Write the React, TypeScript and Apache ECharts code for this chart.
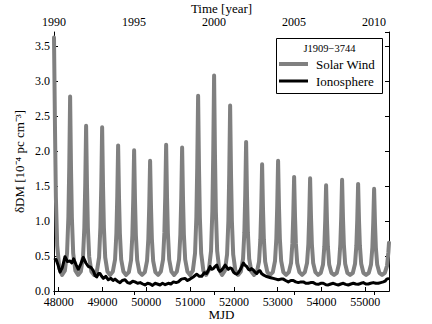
import React, { useEffect, useRef } from "react";
import * as echarts from "echarts";

// MJD range of the plot (1990.0 .. ~2010.94)
const mjdMin = 47892;
const mjdMax = 55540;
const yearMin = 1990;
const yearMax = 1990 + (55540 - 47892) / 365.25;

const legendTitle = "J1909\u22123744";
const seriesNames = ["Solar Wind", "Ionosphere"];

const solarWind: [number, number][] = [
  [47892, 3.62], [47915, 2.31], [47935, 1.34], [47965, 0.65], [48015, 0.32], [48077, 0.23],
  [48140, 0.29], [48190, 0.54], [48220, 1.05], [48240, 1.76], [48260, 2.78], [48280, 1.76], [48300, 1.05], [48330, 0.54], [48380, 0.29], [48442, 0.23],
  [48505, 0.28], [48555, 0.49], [48585, 0.91], [48605, 1.51], [48625, 2.36], [48645, 1.51], [48665, 0.91], [48695, 0.49], [48745, 0.28], [48808, 0.23],
  [48871, 0.28], [48921, 0.48], [48951, 0.91], [48971, 1.5], [48991, 2.34], [49011, 1.5], [49031, 0.91], [49061, 0.48], [49111, 0.28], [49173, 0.23],
  [49236, 0.28], [49286, 0.45], [49316, 0.82], [49336, 1.34], [49356, 2.08], [49376, 1.34], [49396, 0.82], [49426, 0.45], [49476, 0.28], [49538, 0.23],
  [49601, 0.27], [49651, 0.44], [49681, 0.8], [49701, 1.3], [49721, 2.01], [49741, 1.3], [49761, 0.8], [49791, 0.44], [49841, 0.27], [49903, 0.23],
  [49966, 0.27], [50016, 0.43], [50046, 0.75], [50066, 1.21], [50086, 1.86], [50106, 1.21], [50126, 0.75], [50156, 0.43], [50206, 0.27], [50269, 0.23],
  [50332, 0.28], [50382, 0.45], [50412, 0.83], [50432, 1.35], [50452, 2.09], [50472, 1.35], [50492, 0.83], [50522, 0.45], [50572, 0.28], [50634, 0.23],
  [50697, 0.28], [50747, 0.45], [50777, 0.81], [50797, 1.32], [50817, 2.05], [50837, 1.32], [50857, 0.81], [50887, 0.45], [50937, 0.28], [50999, 0.23],
  [51062, 0.29], [51112, 0.54], [51142, 1.05], [51162, 1.77], [51182, 2.79], [51202, 1.77], [51222, 1.05], [51252, 0.54], [51302, 0.29], [51364, 0.23],
  [51427, 0.3], [51477, 0.57], [51507, 1.14], [51527, 1.94], [51547, 3.08], [51567, 1.94], [51587, 1.14], [51617, 0.57], [51667, 0.3], [51730, 0.23],
  [51793, 0.29], [51843, 0.52], [51873, 1.0], [51893, 1.68], [51913, 2.65], [51933, 1.68], [51953, 1.0], [51983, 0.52], [52033, 0.29], [52095, 0.23],
  [52158, 0.28], [52208, 0.46], [52238, 0.84], [52258, 1.37], [52278, 2.13], [52298, 1.37], [52318, 0.84], [52348, 0.46], [52398, 0.28], [52460, 0.23],
  [52523, 0.27], [52573, 0.42], [52603, 0.74], [52623, 1.18], [52643, 1.81], [52663, 1.18], [52683, 0.74], [52713, 0.42], [52763, 0.27], [52825, 0.23],
  [52888, 0.27], [52938, 0.43], [52968, 0.75], [52988, 1.21], [53008, 1.86], [53028, 1.21], [53048, 0.75], [53078, 0.43], [53128, 0.27], [53191, 0.23],
  [53254, 0.27], [53304, 0.4], [53334, 0.68], [53354, 1.07], [53374, 1.63], [53394, 1.07], [53414, 0.68], [53444, 0.4], [53494, 0.27], [53556, 0.23],
  [53619, 0.27], [53669, 0.4], [53699, 0.67], [53719, 1.06], [53739, 1.61], [53759, 1.06], [53779, 0.67], [53809, 0.4], [53859, 0.27], [53921, 0.23],
  [53984, 0.26], [54034, 0.38], [54064, 0.64], [54084, 1.0], [54104, 1.51], [54124, 1.0], [54144, 0.64], [54174, 0.38], [54224, 0.26], [54286, 0.23],
  [54349, 0.26], [54399, 0.39], [54429, 0.67], [54449, 1.05], [54469, 1.59], [54489, 1.05], [54509, 0.67], [54539, 0.39], [54589, 0.26], [54652, 0.23],
  [54715, 0.26], [54765, 0.39], [54795, 0.65], [54815, 1.01], [54835, 1.53], [54855, 1.01], [54875, 0.65], [54905, 0.39], [54955, 0.26], [55017, 0.23],
  [55080, 0.26], [55130, 0.38], [55160, 0.62], [55180, 0.97], [55200, 1.46], [55220, 0.97], [55240, 0.62], [55270, 0.38], [55320, 0.26], [55382, 0.23],
  [55445, 0.26], [55495, 0.36], [55525, 0.55], [55540, 0.69],
];

const ionosphere: [number, number][] = [
  [47892, 0.44], [47940, 0.45], [47990, 0.36], [48030, 0.27], [48080, 0.33], [48143, 0.49], [48200, 0.42],
  [48257, 0.43], [48300, 0.4], [48340, 0.46], [48400, 0.37], [48447, 0.31], [48500, 0.38], [48561, 0.48],
  [48620, 0.4], [48675, 0.35], [48730, 0.34], [48789, 0.29], [48830, 0.22], [48866, 0.2], [48910, 0.25],
  [48942, 0.25], [48980, 0.21], [49018, 0.18], [49075, 0.21], [49132, 0.16], [49190, 0.18], [49240, 0.15],
  [49285, 0.17], [49340, 0.14], [49399, 0.12], [49450, 0.15], [49513, 0.16], [49570, 0.12], [49627, 0.11],
  [49690, 0.14], [49741, 0.13], [49800, 0.11], [49860, 0.12], [49920, 0.1], [49969, 0.086], [50030, 0.11],
  [50090, 0.1], [50140, 0.08], [50198, 0.11], [50250, 0.1], [50312, 0.086], [50370, 0.11], [50430, 0.09],
  [50501, 0.11], [50560, 0.1], [50620, 0.13], [50680, 0.12], [50730, 0.13], [50800, 0.17], [50883, 0.18],
  [50940, 0.15], [50997, 0.17], [51070, 0.2], [51150, 0.24], [51210, 0.21], [51264, 0.21], [51320, 0.26],
  [51378, 0.25], [51420, 0.3], [51453, 0.35], [51490, 0.31], [51529, 0.32], [51570, 0.35], [51606, 0.37],
  [51645, 0.31], [51682, 0.28], [51720, 0.3], [51757, 0.33], [51800, 0.37], [51871, 0.31], [51910, 0.33],
  [51949, 0.32], [51990, 0.27], [52024, 0.25], [52060, 0.24], [52100, 0.26], [52150, 0.31], [52214, 0.4],
  [52250, 0.37], [52291, 0.35], [52330, 0.31], [52367, 0.3], [52400, 0.32], [52442, 0.3], [52480, 0.27],
  [52520, 0.25], [52560, 0.28], [52595, 0.29], [52630, 0.25], [52670, 0.23], [52730, 0.21], [52784, 0.2],
  [52840, 0.19], [52899, 0.18], [52960, 0.17], [53013, 0.16], [53070, 0.17], [53127, 0.17], [53180, 0.15],
  [53241, 0.13], [53300, 0.15], [53355, 0.15], [53410, 0.13], [53470, 0.12], [53530, 0.13], [53584, 0.13],
  [53640, 0.11], [53698, 0.11], [53750, 0.12], [53812, 0.12], [53870, 0.1], [53926, 0.096], [53980, 0.11],
  [54040, 0.11], [54100, 0.09], [54154, 0.086], [54210, 0.1], [54268, 0.11], [54330, 0.095], [54383, 0.086],
  [54440, 0.1], [54497, 0.11], [54550, 0.095], [54611, 0.086], [54670, 0.1], [54725, 0.11], [54780, 0.1],
  [54839, 0.096], [54900, 0.11], [54953, 0.12], [55010, 0.1], [55067, 0.1], [55120, 0.11], [55182, 0.12],
  [55240, 0.11], [55296, 0.11], [55350, 0.12], [55410, 0.13], [55450, 0.14], [55488, 0.17], [55540, 0.18],
];

const FONT = "Liberation Serif";
const GREY = "#808080";

export default function App() {
  const ref = useRef<HTMLDivElement>(null);
  useEffect(() => {
    if (!ref.current) return;
    const chart = echarts.init(ref.current, undefined, { renderer: "svg" });
    const tickStyle = { inside: true, length: 4, lineStyle: { color: "#000", width: 1 } };
    const lineStyle = { lineStyle: { color: "#000", width: 1 } };
    const nameStyle = { fontFamily: FONT, fontSize: 13, color: "#000" };
    const labelBase = { fontFamily: FONT, fontSize: 12, color: "#000", margin: 4 };
    chart.setOption({
      animation: false,
      backgroundColor: "#fff",
      textStyle: { fontFamily: FONT },
      grid: { left: 54, right: 43, top: 32, bottom: 33, containLabel: false, outerBoundsMode: "none" },
      xAxis: [
        {
          type: "value",
          position: "bottom",
          min: mjdMin,
          max: mjdMax,
          minInterval: 1000,
          maxInterval: 1000,
          name: "MJD",
          nameLocation: "middle",
          nameGap: 17,
          nameMoveOverlap: false,
          nameTextStyle: nameStyle,
          axisLine: lineStyle,
          axisTick: tickStyle,
          splitLine: { show: false },
          axisLabel: { ...labelBase, margin: 5, showMinLabel: false, showMaxLabel: false, hideOverlap: false, formatter: (v: number) => String(Math.round(v)) },
        },
        {
          type: "value",
          position: "top",
          min: yearMin,
          max: yearMax,
          interval: 5,
          name: "Time [year]",
          nameLocation: "middle",
          nameGap: 17,
          nameMoveOverlap: false,
          nameTextStyle: nameStyle,
          axisLine: lineStyle,
          axisTick: tickStyle,
          splitLine: { show: false },
          axisLabel: { ...labelBase, showMinLabel: true, showMaxLabel: false, formatter: (v: number) => String(Math.round(v)) },
        },
      ],
      yAxis: [
        {
          type: "value",
          position: "left",
          min: 0,
          max: 3.7,
          interval: 0.5,
          name: "\u03b4DM [10\u207b\u2074 pc cm\u207b\u00b3]",
          nameLocation: "middle",
          nameGap: 28,
          nameRotate: 90,
          nameMoveOverlap: false,
          nameTextStyle: nameStyle,
          axisLine: { show: true, ...lineStyle },
          axisTick: tickStyle,
          splitLine: { show: false },
          axisLabel: { ...labelBase, showMaxLabel: false, formatter: (v: number) => v.toFixed(1) },
        },
        {
          type: "value",
          position: "right",
          min: 0,
          max: 3.7,
          interval: 0.5,
          axisLine: { show: true, ...lineStyle },
          axisTick: tickStyle,
          splitLine: { show: false },
          axisLabel: { show: false },
        },
      ],
      series: [
        {
          name: seriesNames[0],
          type: "line",
          xAxisIndex: 0,
          yAxisIndex: 0,
          data: solarWind,
          showSymbol: false,
          symbol: "none",
          clip: true,
          lineStyle: { color: GREY, width: 4, join: "round", cap: "round" },
          z: 2,
        },
        {
          name: seriesNames[1],
          type: "line",
          xAxisIndex: 0,
          yAxisIndex: 0,
          data: ionosphere,
          showSymbol: false,
          symbol: "none",
          clip: true,
          lineStyle: { color: "#000", width: 3, join: "round" },
          z: 3,
        },
      ],
      graphic: [
        {
          type: "group",
          z: 100,
          children: [
            { type: "rect", shape: { x: 276.5, y: 38.5, width: 106, height: 55 }, style: { fill: "#fff", stroke: "#000", lineWidth: 1 } },
            { type: "text", x: 329.5, y: 48, style: { text: legendTitle, fontFamily: FONT, fontSize: 10.5, fill: "#000", align: "center", verticalAlign: "middle" } },
            { type: "line", shape: { x1: 279, y1: 64, x2: 308, y2: 64 }, style: { stroke: GREY, lineWidth: 4 } },
            { type: "text", x: 316, y: 64, style: { text: seriesNames[0], fontFamily: FONT, fontSize: 13, fill: "#000", align: "left", verticalAlign: "middle" } },
            { type: "line", shape: { x1: 279, y1: 81, x2: 308, y2: 81 }, style: { stroke: "#000", lineWidth: 3 } },
            { type: "text", x: 316, y: 81, style: { text: seriesNames[1], fontFamily: FONT, fontSize: 13, fill: "#000", align: "left", verticalAlign: "middle" } },
          ],
        },
      ],
    });
    return () => chart.dispose();
  }, []);
  return <div ref={ref} style={{ position: "absolute", left: 0, top: 0, width: 432, height: 324 }} />;
}
